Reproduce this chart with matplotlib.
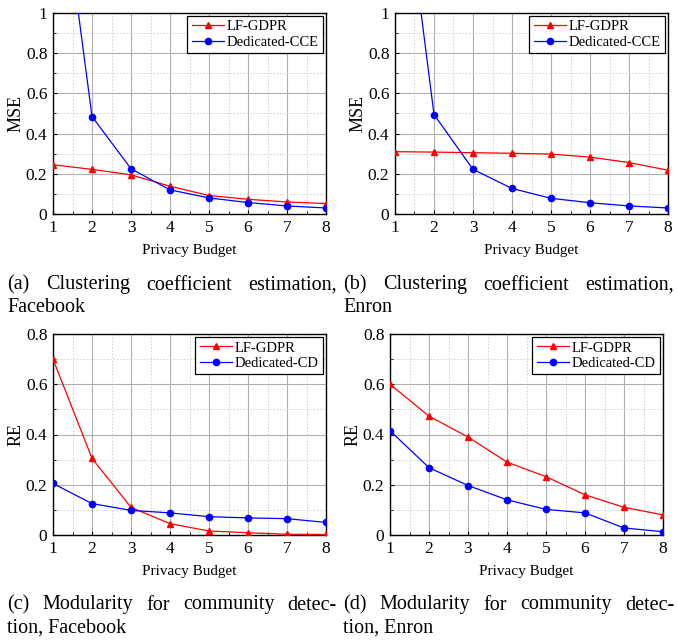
import matplotlib
matplotlib.use("Agg")
import matplotlib.pyplot as plt
from matplotlib.ticker import MultipleLocator

plt.rcParams['font.family'] = ['Liberation Serif', 'DejaVu Serif']

budget = [1, 2, 3, 4, 5, 6, 7, 8]

# (a) clustering coefficient, Facebook
lf_cc_fb = [0.245, 0.222, 0.195, 0.138, 0.092, 0.073, 0.060, 0.052]
ded_cce_fb = [1.96, 0.485, 0.225, 0.120, 0.080, 0.057, 0.040, 0.030]
# (b) clustering coefficient, Enron
lf_cc_en = [0.310, 0.308, 0.305, 0.302, 0.298, 0.283, 0.256, 0.218]
ded_cce_en = [2.02, 0.495, 0.222, 0.127, 0.078, 0.056, 0.040, 0.030]
# (c) modularity, Facebook
lf_mod_fb = [0.700, 0.305, 0.110, 0.045, 0.016, 0.009, 0.003, 0.002]
ded_cd_fb = [0.205, 0.125, 0.098, 0.088, 0.073, 0.068, 0.065, 0.050]
# (d) modularity, Enron
lf_mod_en = [0.600, 0.473, 0.390, 0.290, 0.232, 0.160, 0.110, 0.080]
ded_cd_en = [0.415, 0.268, 0.197, 0.140, 0.102, 0.088, 0.028, 0.013]

panels = [
    (lf_cc_fb, ded_cce_fb, "Dedicated-CCE", "MSE", 1.0),
    (lf_cc_en, ded_cce_en, "Dedicated-CCE", "MSE", 1.0),
    (lf_mod_fb, ded_cd_fb, "Dedicated-CD", "RE", 0.8),
    (lf_mod_en, ded_cd_en, "Dedicated-CD", "RE", 0.8),
]

captions = [
    ("(a) Clustering coefficient estimation,", "Facebook"),
    ("(b) Clustering coefficient estimation,", "Enron"),
    ("(c) Modularity for community detec-", "tion, Facebook"),
    ("(d) Modularity for community detec-", "tion, Enron"),
]

W, H = 677, 640
fig = plt.figure(figsize=(W / 100, H / 100), dpi=100)

# axes boxes in pixels: left, top, right, bottom
boxes = [(53, 13, 326, 214), (395, 13, 668, 214),
         (53, 334, 326, 535), (390, 334, 663, 535)]


def fmt(v, p):
    if abs(v) < 1e-9:
        return "0"
    if abs(v - 1) < 1e-9:
        return "1"
    return f"{v:.1f}"


for (lf, ded, ded_name, ylab, ymax), (l, t, r, b) in zip(panels, boxes):
    ax = fig.add_axes([l / W, 1 - b / H, (r - l) / W, (b - t) / H])
    ax.plot(budget, lf, '-', color='red', marker='^', markersize=5, lw=0.9,
            label="LF-GDPR", zorder=3)
    ax.plot(budget, ded, '-', color='blue', marker='o', markersize=4.5, lw=0.9,
            label=ded_name, zorder=3)
    ax.set_xlim(1, 8)
    ax.set_ylim(0, ymax)
    ax.xaxis.set_major_locator(MultipleLocator(1))
    ax.xaxis.set_minor_locator(MultipleLocator(0.5))
    ax.yaxis.set_major_locator(MultipleLocator(0.2))
    ax.yaxis.set_minor_locator(MultipleLocator(0.1))
    ax.yaxis.set_major_formatter(plt.FuncFormatter(fmt))
    ax.grid(which='major', color='#b0b0b0', lw=0.8)
    ax.grid(which='minor', color='#cccccc', lw=0.6, ls=(0, (2, 2)))
    ax.set_axisbelow(True)
    ax.tick_params(which='both', direction='in', labelsize=12.5, pad=4)
    ax.tick_params(which='major', length=3)
    ax.tick_params(which='minor', length=2)
    for s in ax.spines.values():
        s.set_linewidth(1.0)
    ax.set_xlabel("Privacy Budget", fontsize=11, labelpad=6)
    ax.set_ylabel(ylab, fontsize=13, labelpad=1)
    leg = ax.legend(loc='upper right', fontsize=10.5, fancybox=False,
                    edgecolor='black', framealpha=1, handlelength=2.2,
                    borderaxespad=0.2, labelspacing=0.15, handletextpad=0.2,
                    borderpad=0.3)
    leg.get_frame().set_linewidth(0.9)

# captions, first line justified across the column
fig.canvas.draw()
renderer = fig.canvas.get_renderer()
cap_cols = [(7, 337), (343, 674)]
cap_rows = [(285, 308), (605, 628)]
for i, (line1, line2) in enumerate(captions):
    x0, x1 = cap_cols[i % 2]
    y1, y2 = cap_rows[i // 2]
    words = line1.split(" ")
    texts = [fig.text(0, 1 - y1 / H, w, fontsize=14.5, va='center', ha='left')
             for w in words]
    widths = [tx.get_window_extent(renderer).width for tx in texts]
    gap = ((x1 - x0) - sum(widths)) / (len(words) - 1)
    x = x0
    for tx, wd in zip(texts, widths):
        tx.set_x(x / W)
        x += wd + gap
    fig.text(x0 / W, 1 - y2 / H, line2, fontsize=14.5, va='center', ha='left')

fig.savefig("out.png", dpi=100)
